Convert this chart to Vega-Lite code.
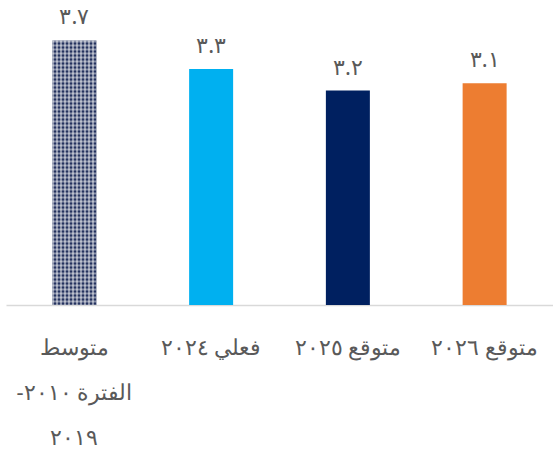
{
  "$schema": "https://vega.github.io/schema/vega-lite/v6.json",
  "width": 547,
  "height": 286,
  "autosize": "none",
  "padding": {"left": 6, "top": 19, "right": 0, "bottom": 149},
  "background": "white",
  "config": {"view": {"stroke": null}, "font": "Noto Sans"},
  "data": {"values": [
    {"cat": "متوسط|الفترة ٢٠١٠-\u200f|٢٠١٩", "value": 3.7, "label": "٣.٧"},
    {"cat": "فعلي ٢٠٢٤", "value": 3.3, "label": "٣.٣"},
    {"cat": "متوقع ٢٠٢٥", "value": 3.0, "label": "٣.٢"},
    {"cat": "متوقع ٢٠٢٦", "value": 3.1, "label": "٣.١"}
  ]},
  "encoding": {
    "x": {"field": "cat", "type": "nominal", "sort": null,
      "scale": {"paddingInner": 0, "paddingOuter": 0},
      "axis": {"title": null, "labelAngle": 0, "ticks": false, "domainColor": "#d9d9d9", "domainWidth": 1.5,
        "labelFontSize": 22, "labelColor": "#595959", "labelPadding": 42, "labelLineHeight": 45,
        "labelBaseline": "middle", "labelExpr": "split(datum.label, '|')", "labelFont": "Noto Sans"}},
    "y": {"field": "value", "type": "quantitative", "scale": {"domain": [0, 4], "nice": false, "zero": true}, "axis": null}
  },
  "layer": [
    {
      "mark": {"type": "bar", "width": 44},
      "encoding": {
        "color": {"field": "cat", "type": "nominal", "sort": null, "legend": null,
          "scale": {"range": ["#24325e", "#00B0F0", "#002060", "#ED7D31"]}}
      }
    },
    {
      "transform": [{"filter": "datum.value == 3.7"}],
      "mark": {"type": "bar", "width": 44, "color": {"gradient": "linear", "x1": 0, "x2": 1, "y1": 0, "y2": 0, "stops": [
        {"offset": 0, "color": "rgba(255,255,255,0.45)"},
        {"offset": 0.04545, "color": "rgba(255,255,255,0.45)"},
        {"offset": 0.04545, "color": "rgba(255,255,255,0)"},
        {"offset": 0.09091, "color": "rgba(255,255,255,0)"},
        {"offset": 0.09091, "color": "rgba(255,255,255,0.45)"},
        {"offset": 0.13636, "color": "rgba(255,255,255,0.45)"},
        {"offset": 0.13636, "color": "rgba(255,255,255,0)"},
        {"offset": 0.18182, "color": "rgba(255,255,255,0)"},
        {"offset": 0.18182, "color": "rgba(255,255,255,0.45)"},
        {"offset": 0.22727, "color": "rgba(255,255,255,0.45)"},
        {"offset": 0.22727, "color": "rgba(255,255,255,0)"},
        {"offset": 0.27273, "color": "rgba(255,255,255,0)"},
        {"offset": 0.27273, "color": "rgba(255,255,255,0.45)"},
        {"offset": 0.31818, "color": "rgba(255,255,255,0.45)"},
        {"offset": 0.31818, "color": "rgba(255,255,255,0)"},
        {"offset": 0.36364, "color": "rgba(255,255,255,0)"},
        {"offset": 0.36364, "color": "rgba(255,255,255,0.45)"},
        {"offset": 0.40909, "color": "rgba(255,255,255,0.45)"},
        {"offset": 0.40909, "color": "rgba(255,255,255,0)"},
        {"offset": 0.45455, "color": "rgba(255,255,255,0)"},
        {"offset": 0.45455, "color": "rgba(255,255,255,0.45)"},
        {"offset": 0.5, "color": "rgba(255,255,255,0.45)"},
        {"offset": 0.5, "color": "rgba(255,255,255,0)"},
        {"offset": 0.54545, "color": "rgba(255,255,255,0)"},
        {"offset": 0.54545, "color": "rgba(255,255,255,0.45)"},
        {"offset": 0.59091, "color": "rgba(255,255,255,0.45)"},
        {"offset": 0.59091, "color": "rgba(255,255,255,0)"},
        {"offset": 0.63636, "color": "rgba(255,255,255,0)"},
        {"offset": 0.63636, "color": "rgba(255,255,255,0.45)"},
        {"offset": 0.68182, "color": "rgba(255,255,255,0.45)"},
        {"offset": 0.68182, "color": "rgba(255,255,255,0)"},
        {"offset": 0.72727, "color": "rgba(255,255,255,0)"},
        {"offset": 0.72727, "color": "rgba(255,255,255,0.45)"},
        {"offset": 0.77273, "color": "rgba(255,255,255,0.45)"},
        {"offset": 0.77273, "color": "rgba(255,255,255,0)"},
        {"offset": 0.81818, "color": "rgba(255,255,255,0)"},
        {"offset": 0.81818, "color": "rgba(255,255,255,0.45)"},
        {"offset": 0.86364, "color": "rgba(255,255,255,0.45)"},
        {"offset": 0.86364, "color": "rgba(255,255,255,0)"},
        {"offset": 0.90909, "color": "rgba(255,255,255,0)"},
        {"offset": 0.90909, "color": "rgba(255,255,255,0.45)"},
        {"offset": 0.95455, "color": "rgba(255,255,255,0.45)"},
        {"offset": 0.95455, "color": "rgba(255,255,255,0)"},
        {"offset": 1, "color": "rgba(255,255,255,0)"}
      ]}}
    },
    {
      "transform": [{"filter": "datum.value == 3.7"}],
      "mark": {"type": "rule", "strokeWidth": 44, "strokeCap": "butt", "strokeDash": [2, 2], "color": "rgba(255,255,255,0.45)"},
      "encoding": {"y2": {"datum": 0}}
    },
    {
      "mark": {"type": "text", "fontSize": 22, "color": "#595959", "baseline": "alphabetic", "dy": -16, "font": "Noto Sans"},
      "encoding": {"text": {"field": "label"}}
    }
  ]
}
